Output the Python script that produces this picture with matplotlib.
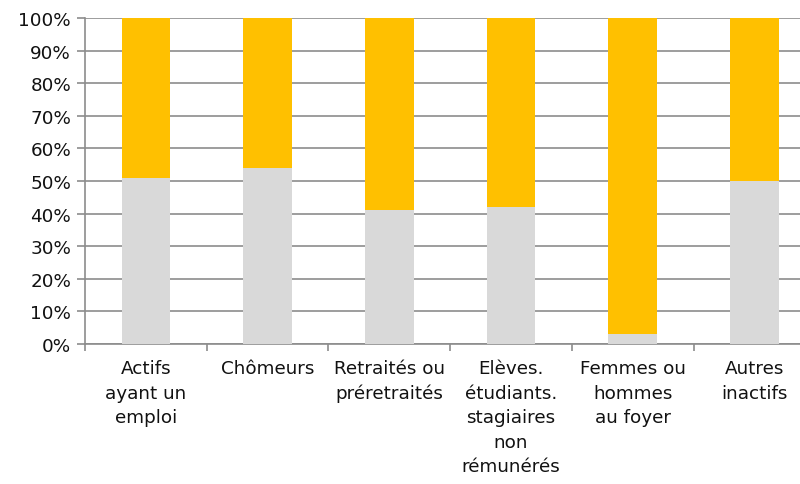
import numpy as np
import matplotlib.pyplot as plt

# Data
categories = ["Actifs\nayant un\nemploi", "Chômeurs", "Retraités ou\npréretraités",
              "Elèves.\nétudiants.\nstagiaires\nnon\nrémunérés",
              "Femmes ou\nhommes\nau foyer", "Autres\ninactifs"]
part_grise = np.array([51, 54, 41, 42, 3, 50])  # %
part_jaune = 100 - part_grise

grid_col = '#8c8c8c'

fig = plt.figure(figsize=(8, 4.85), dpi=100)
ax = fig.add_axes([85 / 800, 140 / 485, 715 / 800, 326 / 485])

x = np.arange(len(categories))
ax.bar(x, part_grise, width=0.4, color='#D9D9D9', zorder=3)
ax.bar(x, part_jaune, width=0.4, bottom=part_grise, color='#FFC000', zorder=3)

ax.set_yticks(np.arange(0, 101, 10))
ax.set_yticklabels([f"{v}%" for v in range(0, 101, 10)], fontsize=13.2, color='#111111')
ax.yaxis.grid(True, color=grid_col, linewidth=1.2, zorder=0)

ax.set_xticks(x)
ax.set_xticklabels(categories, fontsize=13.2, linespacing=1.46, va='top', color='#111111')
ax.tick_params(axis='x', length=0, pad=11)
ax.set_xticks(np.arange(-0.5, len(categories), 1), minor=True)
ax.tick_params(axis='x', which='minor', length=5, color=grid_col, width=1.2)
ax.tick_params(axis='y', length=6, color=grid_col, width=1.2, pad=4)

# limits after ticks (set_xticks would widen them)
ax.set_ylim(0, 100)
ax.set_xlim(-0.5, -0.5 + 715 / 121.7)

for side in ['top', 'right']:
    ax.spines[side].set_visible(False)
for side in ['left', 'bottom']:
    ax.spines[side].set_color(grid_col)
    ax.spines[side].set_linewidth(1.2)

fig.savefig('out.png', dpi=100)
